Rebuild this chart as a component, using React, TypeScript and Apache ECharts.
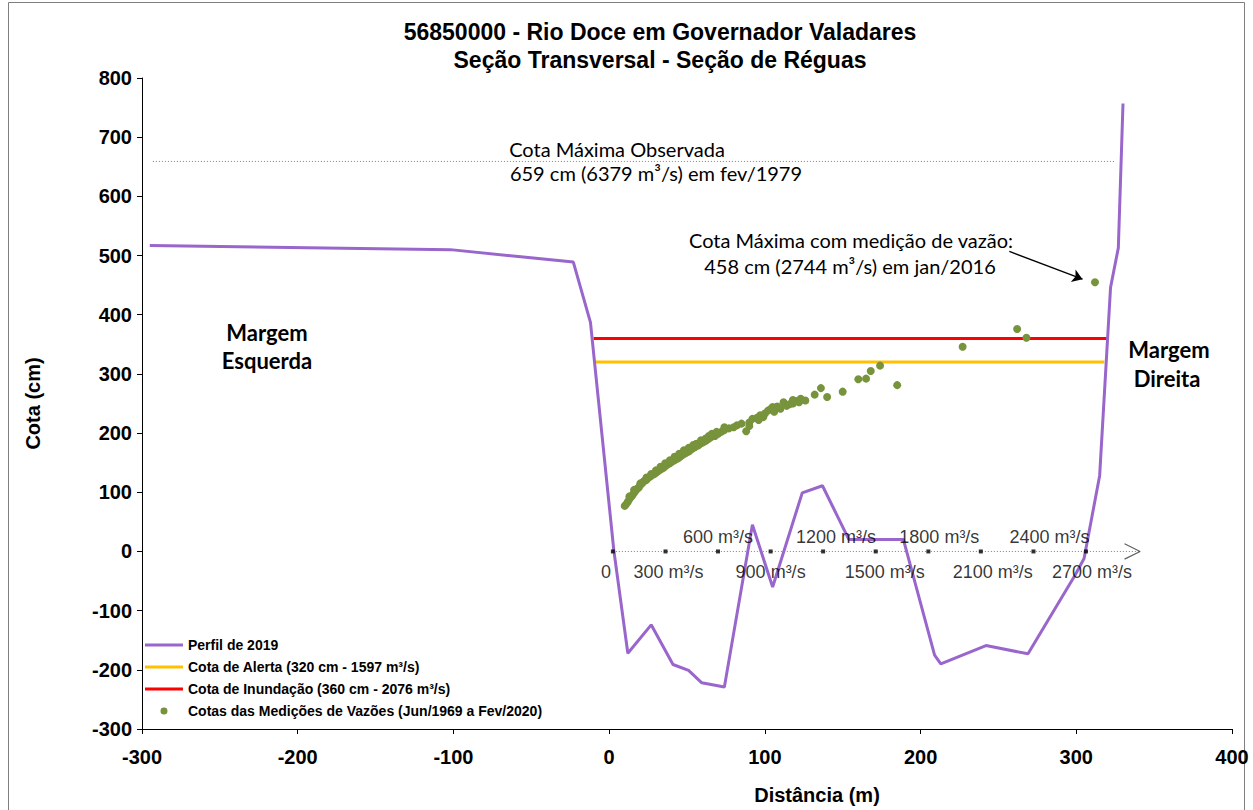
import { useEffect, useRef } from "react";
import * as echarts from "echarts";

// Perfil transversal de 2019 (distância m, cota cm)
const profileX = [-295, -102, -23, -12, 3, 12, 27, 41, 51, 59.5, 74, 92, 105, 124, 137, 154, 189, 209, 213, 242, 269, 299, 305, 315, 322, 327, 330];
const profileY = [517, 510, 489, 387, 2, -172, -124, -191, -201, -222, -229, 45, -60, 99, 111, 20, 20, -175, -190, -159, -173, -41, -12, 128, 446, 513, 757];

// Cotas das medições de vazões (distância m, cota cm)
const measX = [10, 11, 12, 13, 14, 15, 16, 17, 18, 19, 20, 21, 22, 23, 24, 25, 26, 27, 28, 29, 30, 31, 32, 33, 34, 35, 36, 37, 38, 39, 40, 41, 42, 43, 44, 45, 46, 47, 48, 49, 50, 51, 52, 53, 54, 55, 56, 57, 58, 59, 60, 61, 62, 63, 64, 65, 66, 67, 68, 70, 72, 74, 77, 80, 82, 85, 88, 90, 92, 95, 97, 99, 100, 102, 104, 106, 108, 110, 112, 114, 116, 118, 120, 122, 123, 126, 132, 136, 140, 150, 160, 165, 168, 174, 185, 227, 262, 268, 312, 13, 16, 20, 24, 27, 30, 33, 36, 39, 42, 45, 48, 51, 54, 56, 59, 62, 64, 66, 69, 74, 90, 96, 105, 118];
const measY = [77, 80, 84, 88, 92, 95, 99, 103, 106, 108, 112, 115, 118, 120, 121, 124, 126, 128, 130, 131, 133, 135, 137, 139, 140, 142, 144, 146, 148, 149, 151, 153, 154, 156, 157, 159, 161, 163, 165, 166, 168, 169, 171, 173, 175, 176, 178, 179, 181, 183, 184, 186, 187, 189, 191, 193, 194, 196, 195, 199, 202, 205, 208, 210, 213, 216, 203, 218, 224, 226, 230, 227, 233, 238, 241, 236, 245, 241, 252, 246, 249, 250, 254, 252, 258, 255, 265, 276, 261, 270, 291, 292, 305, 314, 281, 346, 376, 361, 455, 93, 104, 115, 125, 131, 137, 143, 149, 154, 160, 165, 171, 175, 180, 182, 188, 191, 195, 199, 202, 210, 212, 222, 244, 256];

// Cotas de referência
const alertCota = 320;
const alertX = [-9, 318];
const floodCota = 360;
const floodX = [-10, 320];
const maxCota = 659;
const maxX = [-293, 325];

// Eixo de vazões (posição em m ao longo da cota 0)
const dischargeValues = [0, 300, 600, 900, 1200, 1500, 1800, 2100, 2400, 2700];
const dischargeX = [2.4, 36.2, 69.9, 103.7, 137.4, 171.2, 205, 238.7, 272.5, 306.2];
const dischargeLabelPos = ["bottom", "bottom", "top", "bottom", "top", "bottom", "top", "bottom", "top", "bottom"];
const dischargeLabelDx = [-7, 3, 0, 0, 13, 9, 11, 12, 16, 6];
const dischargeEnd = 341;

// Seta da cota máxima medida
const arrowFrom = [257, 507];
const arrowTo = [304, 460];

const FONT = "Liberation Sans";
const CAL = "Lato";

export default function App() {
  const ref = useRef<HTMLDivElement>(null);
  useEffect(() => {
    const chart = echarts.init(ref.current!, null, { renderer: "svg" });
    const box = "M0,0L0.01,0L0.01,0.01Z M38,14L38.01,14L38.01,14.01Z ";
    const lineIcon = "path://" + box + "M0,5.5H38V8.5H0Z";
    const dotIcon = "path://" + box + "M19,3.5A3.5,3.5 0 1 1 19,10.5A3.5,3.5 0 1 1 19,3.5Z";
    chart.setOption({
      animation: false,
      backgroundColor: "#ffffff",
      title: {
        text: "56850000 - Rio Doce em Governador Valadares\nSeção Transversal - Seção de Réguas",
        left: 655,
        top: 13,
        textAlign: "center",
        textStyle: { fontFamily: FONT, fontWeight: "bold", fontSize: 23, lineHeight: 28, color: "#000" },
      },
      grid: { left: 142, right: 21, top: 78, bottom: 76 },
      legend: {
        orient: "vertical",
        left: 145,
        top: 638,
        padding: 0,
        itemWidth: 38,
        itemHeight: 14,
        itemGap: 8,
        itemTextGap: 3,
        textStyle: { fontFamily: FONT, fontWeight: "bold", fontSize: 14, color: "#000" },
        data: [
          { name: "Perfil de 2019", icon: lineIcon },
          { name: "Cota de Alerta (320 cm - 1597 m³/s)", icon: lineIcon },
          { name: "Cota de Inundação (360 cm - 2076 m³/s)", icon: lineIcon },
          { name: "Cotas das Medições de Vazões (Jun/1969 a Fev/2020)", icon: dotIcon },
        ],
      },
      xAxis: {
        type: "value",
        min: -300,
        max: 400,
        interval: 100,
        name: "Distância (m)",
        nameLocation: "middle",
        nameGap: 56,
        nameTextStyle: { fontFamily: FONT, fontWeight: "bold", fontSize: 20, color: "#000", padding: [0, 0, 0, 260] },
        axisLine: { onZero: false, lineStyle: { color: "#000", width: 1 } },
        axisTick: { show: true, length: 5, lineStyle: { color: "#000" } },
        axisLabel: { fontFamily: FONT, fontWeight: "bold", fontSize: 20, color: "#000", margin: 18 },
        splitLine: { show: false },
      },
      yAxis: {
        type: "value",
        min: -300,
        max: 800,
        interval: 100,
        name: "Cota (cm)",
        nameLocation: "middle",
        nameGap: 99,
        nameTextStyle: { fontFamily: FONT, fontWeight: "bold", fontSize: 20, color: "#000" },
        axisLine: { show: true, onZero: false, lineStyle: { color: "#000", width: 1 } },
        axisTick: { show: true, length: 5, lineStyle: { color: "#000" } },
        axisLabel: { fontFamily: FONT, fontWeight: "bold", fontSize: 20, color: "#000", margin: 10 },
        splitLine: { show: false },
      },
      series: [
        {
          name: "Perfil de 2019",
          type: "line",
          data: profileX.map((x, i) => [x, profileY[i]]),
          symbol: "none",
          lineStyle: { color: "#9966cc", width: 3 },
          itemStyle: { color: "#9966cc" },
          z: 4,
        },
        {
          name: "Cota de Alerta (320 cm - 1597 m³/s)",
          type: "line",
          data: alertX.map((x) => [x, alertCota]),
          symbol: "none",
          lineStyle: { color: "#ffc000", width: 3 },
          itemStyle: { color: "#ffc000" },
          z: 3,
        },
        {
          name: "Cota de Inundação (360 cm - 2076 m³/s)",
          type: "line",
          data: floodX.map((x) => [x, floodCota]),
          symbol: "none",
          lineStyle: { color: "#ff0000", width: 3 },
          itemStyle: { color: "#ff0000" },
          z: 3,
        },
        {
          name: "Cotas das Medições de Vazões (Jun/1969 a Fev/2020)",
          type: "scatter",
          data: measX.map((x, i) => [x, measY[i]]),
          symbolSize: 8,
          itemStyle: { color: "#77933c", opacity: 1 },
          z: 5,
        },
        {
          name: "maxObs",
          type: "line",
          data: maxX.map((x) => [x, maxCota]),
          symbol: "none",
          lineStyle: { color: "#808080", width: 1, type: [1, 2] },
          silent: true,
          z: 2,
        },
        {
          name: "eixoVazao",
          type: "line",
          data: [[dischargeX[0], 0], [dischargeEnd, 0]],
          symbol: "none",
          lineStyle: { color: "#808080", width: 1, type: [1, 2] },
          silent: true,
          z: 2,
        },
        {
          name: "setaVazao",
          type: "line",
          data: [[dischargeEnd - 10, 13], [dischargeEnd, 0], [dischargeEnd - 10, -13]],
          symbol: "none",
          lineStyle: { color: "#606060", width: 1.2 },
          silent: true,
          z: 2,
        },
        {
          name: "ticksVazao",
          type: "scatter",
          data: dischargeX.map((x, i) => ({
            value: [x, 0],
            label: {
              show: true,
              position: dischargeLabelPos[i],
              distance: dischargeLabelPos[i] === "bottom" ? 10 : 3,
              offset: [dischargeLabelDx[i], 0],
              formatter: dischargeValues[i] === 0 ? "0" : `${dischargeValues[i]} m³/s`,
              fontFamily: FONT,
              fontSize: 18,
              color: "#000",
            },
          })),
          symbol: "rect",
          symbolSize: 4,
          itemStyle: { color: "#000" },
          silent: true,
          z: 6,
        },
        {
          name: "seta",
          type: "lines",
          coordinateSystem: "cartesian2d",
          data: [{ coords: [arrowFrom, arrowTo] }],
          symbol: ["none", "arrow"],
          symbolSize: 10,
          lineStyle: { color: "#000", width: 1.3, opacity: 1 },
          silent: true,
          z: 6,
        },
      ],
      graphic: [
        {
          type: "rect",
          silent: true,
          shape: { x: 8.5, y: 2.5, width: 1236, height: 820 },
          style: { fill: "none", stroke: "#7f7f7f", lineWidth: 1 },
        },
        { type: "text", x: 617, y: 149, silent: true, style: { text: "Cota Máxima Observada", align: "center", verticalAlign: "middle", font: `20px ${CAL}`, fill: "#000" } },
        { type: "text", x: 656, y: 173, silent: true, style: { text: "659 cm (6379 m³/s) em fev/1979", align: "center", verticalAlign: "middle", font: `20px ${CAL}`, fill: "#000" } },
        { type: "text", x: 851, y: 240, silent: true, style: { text: "Cota Máxima com medição de vazão:", align: "center", verticalAlign: "middle", font: `20px ${CAL}`, fill: "#000" } },
        { type: "text", x: 850, y: 266, silent: true, style: { text: "458 cm (2744 m³/s) em jan/2016", align: "center", verticalAlign: "middle", font: `20px ${CAL}`, fill: "#000" } },
        { type: "text", x: 267, y: 332, silent: true, style: { text: "Margem", align: "center", verticalAlign: "middle", font: `bold 22px ${CAL}`, fill: "#000" } },
        { type: "text", x: 267, y: 360, silent: true, style: { text: "Esquerda", align: "center", verticalAlign: "middle", font: `bold 22px ${CAL}`, fill: "#000" } },
        { type: "text", x: 1169, y: 349, silent: true, style: { text: "Margem", align: "center", verticalAlign: "middle", font: `bold 22px ${CAL}`, fill: "#000" } },
        { type: "text", x: 1167, y: 378, silent: true, style: { text: "Direita", align: "center", verticalAlign: "middle", font: `bold 22px ${CAL}`, fill: "#000" } },
      ],
    });
    return () => chart.dispose();
  }, []);
  return (
    <div
      ref={ref}
      style={{ position: "absolute", left: 0, top: 0, width: 1253, height: 810, background: "#fff" }}
    />
  );
}
